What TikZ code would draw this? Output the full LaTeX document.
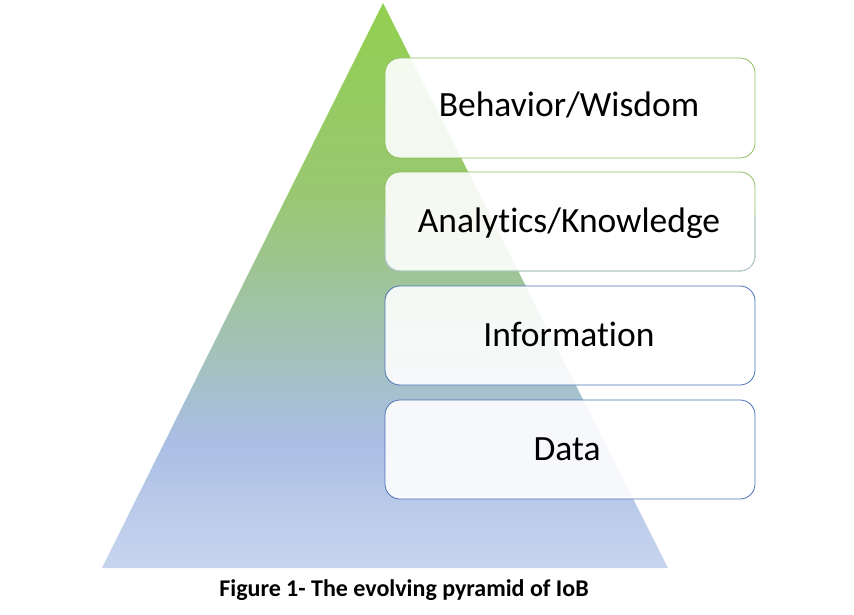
\documentclass[tikz,border=0pt]{standalone}
\usepackage{fontspec}
\setmainfont[Ligatures=NoCommon]{Carlito}
\definecolor{gA}{RGB}{146,208,80}
\definecolor{gB}{RGB}{153,199,115}
\definecolor{bA}{RGB}{170,190,228}
\definecolor{bB}{RGB}{200,213,238}
\definecolor{gline}{RGB}{140,190,95}
\definecolor{bline}{RGB}{75,115,185}
\definecolor{lbline}{RGB}{180,199,231}
\tikzset{
  layerbox/.style={rounded corners=15pt, fill=white, fill opacity=0.9, line width=0.8pt},
  layertext/.style={font=\fontsize{35.5}{40}\selectfont, text=black, anchor=base},
}
\begin{document}
\begin{tikzpicture}[x=1pt,y=-1pt]
\useasboundingbox (0,0) rectangle (854,615);
\coordinate (apex) at (383,3);
\coordinate (bl) at (102,568);
\coordinate (br) at (668,568);
\begin{scope}
  \clip (apex) -- (bl) -- (br) -- cycle;
  \shade[top color=gA, bottom color=gB] (100,2) rectangle (670,201);
  \shade[top color=gB, bottom color=bA] (100,200) rectangle (670,441);
  \shade[top color=bA, bottom color=bB] (100,440) rectangle (670,570);
\end{scope}
% boxes
\draw[layerbox, draw=gline] (385,58) rectangle (755,158);
\draw[layerbox, draw=gline] (385,172) rectangle (755,271);
\begin{scope}
  \clip (380,215) rectangle (760,280);
  \draw[rounded corners=15pt, line width=0.8pt, draw=lbline] (385,172) rectangle (755,271);
\end{scope}
\draw[layerbox, draw=bline] (385,286) rectangle (755,385);
\draw[layerbox, draw=bline] (385,400) rectangle (755,499);
\node[layertext] (t1) at (569,117) {Behavior/Wisdom};
\node[layertext] (t2) at (569,232) {Analytics/Knowledge};
\node[layertext] (t3) at (569,346) {Information};
\node[layertext] (t4) at (567,460) {Data};
\node[font=\bfseries\fontsize{24}{28}\selectfont, anchor=base] (cap) at (404,596) {Figure 1- The evolving pyramid of IoB};
\end{tikzpicture}
\end{document}
